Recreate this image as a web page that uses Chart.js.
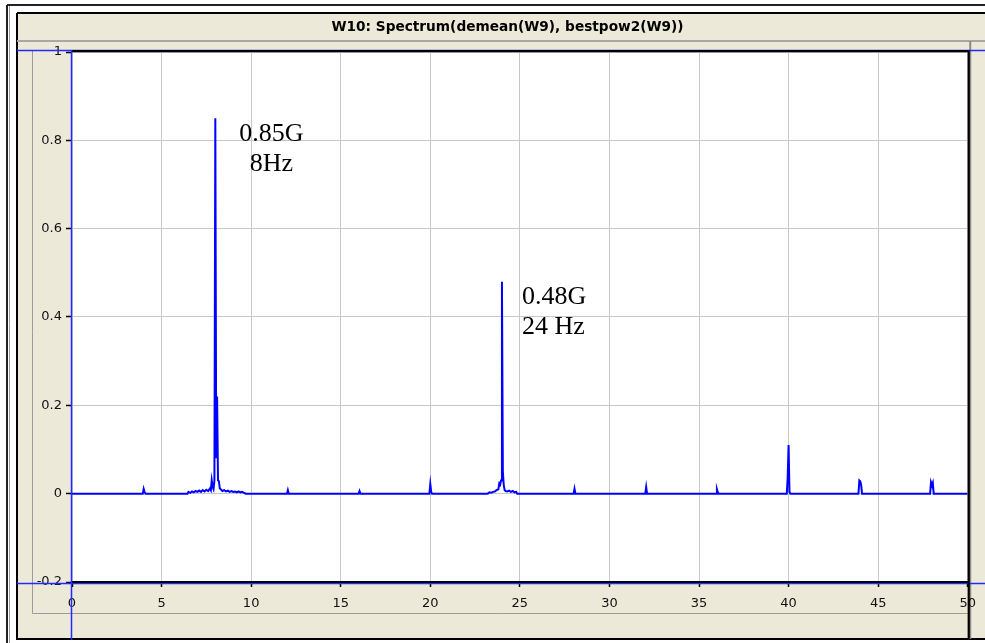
<!DOCTYPE html>
<html>
<head>
<meta charset="utf-8">
<title>W10: Spectrum</title>
<script src="https://cdn.jsdelivr.net/npm/chart.js@4/dist/chart.umd.min.js"></script>
<style>
  html, body { margin: 0; padding: 0; background: #ffffff; }
  #wrap { width: 985px; height: 643px; position: relative; }
  canvas { display: block; }
</style>
</head>
<body>
<div id="wrap"><canvas id="spectrum" width="985" height="643"></canvas></div>
<script>
// Spectrum of W9 (demeaned): frequency in Hz, amplitude in G
const freqHz = [
  0, 3.95, 4.0, 4.05, 4.1,
  6.45, 6.5, 6.6, 6.7, 6.8, 6.9, 7.0, 7.1, 7.2, 7.3, 7.4, 7.5, 7.6, 7.7, 7.75, 7.8, 7.85, 7.9, 7.95,
  8.0, 8.05, 8.1, 8.15, 8.2, 8.25, 8.3, 8.4, 8.5, 8.6, 8.7, 8.8, 8.9, 9.0, 9.1, 9.2, 9.3, 9.4, 9.5, 9.6, 9.7,
  12.0, 12.05, 12.1,
  16.0, 16.05, 16.1,
  19.95, 20.0, 20.05, 20.1,
  23.2, 23.3, 23.4, 23.5, 23.6, 23.7, 23.8, 23.85, 23.9, 23.95,
  24.0, 24.05, 24.1, 24.15, 24.2, 24.3, 24.4, 24.5, 24.6, 24.7, 24.8, 24.85,
  28.0, 28.05, 28.1,
  32.0, 32.05, 32.1,
  35.95, 36.0, 36.05, 36.1,
  39.9, 39.95, 40.0, 40.05, 40.1,
  43.9, 43.95, 44.0, 44.05, 44.1,
  47.9, 47.95, 48.0, 48.05, 48.1,
  50
];
const amplitudeG = [
  0, 0, 0.011, 0.004, 0,
  0, 0.004, 0.002, 0.005, 0.003, 0.006, 0.004, 0.007, 0.004, 0.008, 0.005, 0.009, 0.006, 0.012, 0.008, 0.03, 0.015, 0.01, 0.03,
  0.85, 0.08, 0.22, 0.03, 0.028, 0.012, 0.01, 0.006, 0.008, 0.005, 0.007, 0.004, 0.006, 0.004, 0.005, 0.003, 0.005, 0.003, 0.004, 0.002, 0,
  0, 0.008, 0,
  0, 0.006, 0,
  0, 0.022, 0.004, 0,
  0, 0.003, 0.002, 0.004, 0.005, 0.008, 0.01, 0.023, 0.02, 0.03,
  0.48, 0.05, 0.02, 0.008, 0.006, 0.005, 0.007, 0.004, 0.006, 0.003, 0.004, 0,
  0, 0.011, 0,
  0, 0.015, 0,
  0, 0.01, 0.003, 0,
  0, 0.037, 0.11, 0.004, 0,
  0, 0.03, 0.028, 0.02, 0,
  0, 0.026, 0.02, 0.025, 0,
  0
];

// Axis ticks
const xTicks = [0, 5, 10, 15, 20, 25, 30, 35, 40, 45, 50];
const xTickLabels = ['0', '5', '10', '15', '20', '25', '30', '35', '40', '45', '50'];
const yTicks = [-0.2, 0, 0.2, 0.4, 0.6, 0.8, 1];
const yTickLabels = ['-0.2', '0', '0.2', '0.4', '0.6', '0.8', '1'];

// Peak call-outs
const peakHz = [8, 24];
const peakG = [0.85, 0.48];
const peakText = [['0.85G', '8Hz'], ['0.48G', '24 Hz']];

const chartTitle = 'W10: Spectrum(demean(W9), bestpow2(W9))';

const PANEL = '#ece9d8';
const UI_FONT = '"DejaVu Sans", Verdana, sans-serif';

// Window frame, title bar, panel background and plot background
const framePlugin = {
  id: 'frame',
  beforeDraw(chart) {
    const ctx = chart.ctx;
    const W = chart.width, H = chart.height;
    const a = chart.chartArea;
    ctx.save();
    ctx.fillStyle = '#ffffff';
    ctx.fillRect(0, 0, W, H);

    // outer window edge
    ctx.strokeStyle = '#222222';
    ctx.lineWidth = 2;
    ctx.beginPath();
    ctx.moveTo(7, 5); ctx.lineTo(W, 5);
    ctx.moveTo(7, 5); ctx.lineTo(7, H);
    ctx.stroke();
    ctx.strokeStyle = '#9a9a9a';
    ctx.lineWidth = 1;
    ctx.beginPath();
    ctx.moveTo(9.5, 6); ctx.lineTo(9.5, H);
    ctx.stroke();

    // panel
    ctx.fillStyle = PANEL;
    ctx.fillRect(17, 13, W - 17, 626);
    ctx.strokeStyle = '#000000';
    ctx.lineWidth = 2;
    ctx.beginPath();
    ctx.moveTo(17, 13); ctx.lineTo(W, 13);
    ctx.moveTo(17, 13); ctx.lineTo(17, 639);
    ctx.lineTo(W, 639);
    ctx.stroke();

    // title
    ctx.fillStyle = '#000000';
    ctx.font = 'bold 13.7px ' + UI_FONT;
    ctx.textAlign = 'center';
    ctx.textBaseline = 'middle';
    ctx.fillText(chartTitle, 507.5, 27);

    // inner grey frame under the title bar
    ctx.strokeStyle = '#a8a8a8';
    ctx.lineWidth = 2;
    ctx.beginPath();
    ctx.moveTo(17, 41); ctx.lineTo(W, 41);
    ctx.stroke();
    ctx.strokeStyle = '#9c9c9c';
    ctx.lineWidth = 1;
    ctx.beginPath();
    ctx.moveTo(32.5, 50); ctx.lineTo(32.5, 613.5);
    ctx.lineTo(a.right, 613.5);
    ctx.stroke();
    ctx.strokeStyle = '#8a8a8a';
    ctx.lineWidth = 2;
    ctx.beginPath();
    ctx.moveTo(a.right + 2.5, 41); ctx.lineTo(a.right + 2.5, 639);
    ctx.stroke();

    // plot background
    ctx.fillStyle = '#ffffff';
    ctx.fillRect(a.left, a.top, a.right - a.left, a.bottom - a.top);
    ctx.restore();
  },
  afterDraw(chart) {
    const ctx = chart.ctx;
    const W = chart.width;
    const a = chart.chartArea;
    const xs = chart.scales.x, ys = chart.scales.y;
    ctx.save();

    // cursor lines (blue) at the axis limits
    const yTop = ys.getPixelForValue(yTicks[yTicks.length - 1]);
    const yBot = ys.getPixelForValue(yTicks[0]);
    const xLeft = xs.getPixelForValue(xTicks[0]);
    ctx.strokeStyle = '#1f2bff';
    ctx.lineWidth = 1.5;
    ctx.beginPath();
    ctx.moveTo(17, yTop - 1.5); ctx.lineTo(W, yTop - 1.5);
    ctx.moveTo(17, yBot + 1.5); ctx.lineTo(W, yBot + 1.5);
    ctx.stroke();

    // plot border
    ctx.strokeStyle = '#000000';
    ctx.lineWidth = 2.2;
    ctx.beginPath();
    ctx.moveTo(a.left, a.top - 0.8); ctx.lineTo(a.right + 1, a.top - 0.8);
    ctx.moveTo(a.left, a.bottom); ctx.lineTo(a.right + 1, a.bottom);
    ctx.moveTo(a.right + 1, a.top - 1.5); ctx.lineTo(a.right + 1, 639);
    ctx.stroke();

    ctx.strokeStyle = '#1f2bff';
    ctx.lineWidth = 1.5;
    ctx.beginPath();
    ctx.moveTo(xLeft - 0.5, yTop - 2); ctx.lineTo(xLeft - 0.5, 640);
    ctx.stroke();

    // peak call-outs
    ctx.fillStyle = '#000000';
    ctx.font = '26px "Liberation Serif", "Times New Roman", serif';
    ctx.textBaseline = 'alphabetic';
    peakHz.forEach((f, i) => {
      const px = xs.getPixelForValue(f);
      const py = ys.getPixelForValue(peakG[i]);
      const lines = peakText[i];
      if (i === 0) {
        ctx.textAlign = 'center';
        ctx.fillText(lines[0], px + 56, py + 23);
        ctx.fillText(lines[1], px + 56, py + 53);
      } else {
        ctx.textAlign = 'left';
        ctx.fillText(lines[0], px + 20, py + 22);
        ctx.fillText(lines[1], px + 20, py + 52);
      }
    });
    ctx.restore();
  }
};

new Chart(document.getElementById('spectrum'), {
  type: 'line',
  data: {
    datasets: [{
      label: 'Spectrum',
      data: freqHz.map((f, i) => ({ x: f, y: amplitudeG[i] })),
      borderColor: '#0000ff',
      borderWidth: 2,
      pointRadius: 0,
      tension: 0,
      fill: false
    }]
  },
  options: {
    responsive: false,
    animation: false,
    devicePixelRatio: 1,
    layout: { padding: { left: 0, right: 16, top: 52, bottom: 0 } },
    plugins: {
      legend: { display: false },
      tooltip: { enabled: false },
      title: { display: false }
    },
    scales: {
      x: {
        type: 'linear',
        min: 0,
        max: 50,
        afterFit(scale) { scale.height = 61; },
        afterBuildTicks(scale) { scale.ticks = xTicks.map(v => ({ value: v })); },
        border: { display: false },
        grid: {
          color: '#c8c8c8',
          lineWidth: 1,
          drawTicks: true,
          tickLength: 5,
          tickColor: '#000000',
          tickWidth: 1.5
        },
        ticks: {
          autoSkip: false,
          maxRotation: 0,
          padding: 9,
          color: '#111111',
          font: { family: UI_FONT, size: 13 },
          callback: (v) => xTickLabels[xTicks.indexOf(v)]
        }
      },
      y: {
        type: 'linear',
        min: -0.2,
        max: 1,
        afterFit(scale) { scale.width = 72; },
        afterBuildTicks(scale) { scale.ticks = yTicks.map(v => ({ value: v })); },
        border: { display: false },
        grid: {
          color: '#c8c8c8',
          lineWidth: 1,
          drawTicks: true,
          tickLength: 6,
          tickColor: '#000000',
          tickWidth: 1.5
        },
        ticks: {
          padding: 4,
          color: '#111111',
          font: { family: UI_FONT, size: 13 },
          callback: (v) => yTickLabels[yTicks.indexOf(v)]
        }
      }
    }
  },
  plugins: [framePlugin]
});
</script>
</body>
</html>
